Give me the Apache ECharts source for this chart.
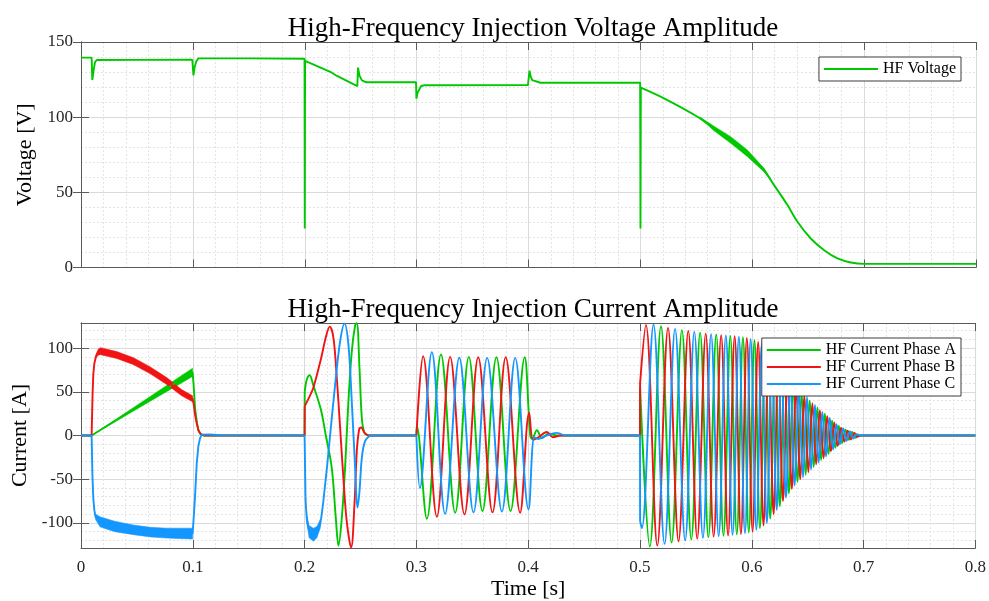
<!DOCTYPE html>
<html>
<head>
<meta charset="utf-8">
<script src="https://cdn.jsdelivr.net/npm/echarts@6/dist/echarts.min.js"></script>
<style>
  html, body { margin: 0; padding: 0; background: #ffffff; }
  #chart { width: 989px; height: 601px; }
</style>
</head>
<body>
<div id="chart"></div>
<script>
// ---------- tick labels ----------
const voltageTicks = [0, 50, 100, 150];
const currentTicks = [-100, -50, 0, 50, 100];

// ---------- HF voltage amplitude [t (s), V] ----------
// piecewise-constant part with the switching transients
const hfVoltage = [
  [0, 139.6], [0.0095, 139.6], [0.0101, 124.7], [0.0112, 131], [0.0125, 136.5], [0.014, 138.0], [0.05, 138.1], [0.0995, 138.2],
  [0.1005, 127.8], [0.1015, 133], [0.103, 137], [0.105, 139.1], [0.15, 139.1], [0.1998, 138.9],
  [0.2, 26], [0.2003, 137.4], [0.2228, 130.2], [0.2288, 127.4], [0.247, 120.7], [0.2476, 133], [0.249, 127.5], [0.2511, 124.5], [0.255, 123.2], [0.2995, 123.2],
  [0.2998, 112.3], [0.301, 116.5], [0.304, 120.7], [0.307, 121.2], [0.3995, 121.3],
  [0.4009, 131], [0.4018, 127.5], [0.4033, 124.7], [0.4107, 122.9], [0.4998, 123.0],
  [0.5001, 26], [0.5004, 119.6]
];
// run-up part (smooth decay to the floor)
const hfVoltageRamp = [
  [0.5004, 119.6], [0.5211, 112.5], [0.551, 100.3], [0.5658, 92.5], [0.5808, 84.8], [0.5957, 75.9],
  [0.6106, 64.8], [0.6195, 54.8], [0.6315, 41.5], [0.6404, 30.4], [0.6523, 19.3], [0.6643, 11.5], [0.6762, 6.0],
  [0.6881, 3.3], [0.7, 2.4], [0.75, 2.4], [0.8, 2.4]
];
// ripple envelope of the voltage during the speed ramp
const hfVoltageRippleUpper = [[0.553, 100.2], [0.5658, 94.0], [0.5808, 87.0], [0.5957, 78.1], [0.6106, 66.0], [0.6195, 54.8]];
const hfVoltageRippleLower = [[0.553, 99.6], [0.5658, 91.0], [0.5808, 82.6], [0.5957, 73.7], [0.6106, 63.6], [0.6195, 54.8]];

// ---------- HF current, phase A [t (s), A] ----------
const phaseA_step = [[0, 0], [0.0095, 0], [0.0998, 72.3], [0.1006, 60], [0.102, 32], [0.1035, 16], [0.105, 6], [0.107, 1.5], [0.11, 0], [0.2, 0], [0.2001, 50]];
const phaseA_burst1 = [[0.2001, 50], [0.202, 64], [0.2045, 69], [0.2079, 57], [0.2145, 30], [0.219, 0], [0.2243, -37], [0.2279, -94], [0.2303, -126],
  [0.2333, -94], [0.2362, -37], [0.2392, 39], [0.2422, 96], [0.2452, 126], [0.2467, 128.5], [0.2491, 77], [0.2512, 20], [0.2536, 3], [0.2571, 0]];
const phaseA_gap1 = [[0.2571, 0], [0.3, 0]];
const phaseA_burst2 = [[0.3, 0], [0.3004, 10], [0.3093, -95.2], [0.3220, 92.6], [0.3347, -88.3], [0.3469, 90], [0.3591, -86.4], [0.3716, 89.6],
  [0.3842, -86.4], [0.3969, 89.6], [0.4018, 0], [0.4035, -4], [0.4078, 6], [0.4125, -3], [0.418, 2], [0.425, 0]];
const phaseA_gap2 = [[0.425, 0], [0.5, 0], [0.5001, 55]];
const phaseA_burst3 = [[0.5001, 55], [0.5088, -127], [0.5188, 125], [0.5283, -122.5], [0.5375, 120.5], [0.5459, -119], [0.5538, 117.5], [0.5612, -116.3],
  [0.5682, 115.5], [0.5747, -114.7], [0.5808, 114], [0.5866, -113.2], [0.5921, 112.5], [0.5973, -111], [0.6024, 109], [0.6073, -106], [0.6120, 101],
  [0.6165, -95], [0.6209, 88], [0.6251, -81], [0.6293, 73], [0.6332, -66], [0.6371, 59], [0.6410, -53], [0.6446, 49], [0.6482, -45], [0.6518, 40],
  [0.6554, -36], [0.6587, 32], [0.6620, -28], [0.6653, 25], [0.6686, -21], [0.6718, 17], [0.6748, -14], [0.6778, 11], [0.6808, -8.5], [0.6838, 6.5],
  [0.6868, -5], [0.6898, 4], [0.6928, -2.5], [0.6955, 0]];
const phaseA_tail = [[0.6955, 0], [0.8, 0]];
const phaseA_rampUpper = [[0.0095, 0], [0.0998, 77]];
const phaseA_rampLower = [[0.0095, 0], [0.0998, 67.5]];

// ---------- HF current, phase B ----------
const phaseB_step = [[0, 0], [0.0095, 0], [0.0103, 45], [0.011, 70], [0.012, 83], [0.0135, 91], [0.0155, 95.5], [0.0175, 96.5], [0.032, 92], [0.047, 85],
  [0.062, 74.5], [0.077, 62], [0.09, 49], [0.0998, 42], [0.1008, 36], [0.102, 24], [0.1035, 14], [0.105, 6], [0.1068, 2], [0.11, 0], [0.2, 0], [0.2001, 33.6]];
const phaseB_burst1 = [[0.2001, 33.6], [0.2049, 46], [0.2079, 55], [0.2145, 87], [0.2195, 115], [0.2225, 124.5], [0.2258, 111.7], [0.2288, 66], [0.2318, 8.4],
  [0.2347, -48.7], [0.2377, -98.3], [0.2416, -128], [0.2446, -78.9], [0.2467, -17.9], [0.2488, 6.9], [0.2506, 9.2], [0.2536, 3], [0.257, 0]];
const phaseB_gap1 = [[0.257, 0], [0.3, 0]];
const phaseB_burst2 = [[0.3, 0], [0.3060, 90.7], [0.3183, -92.9], [0.3302, 90], [0.3430, -90.3], [0.3553, 89.6], [0.3681, -88], [0.3799, 89.6],
  [0.3928, -88.3], [0.4009, 26], [0.4045, -5], [0.409, -2], [0.4167, 4], [0.422, -2], [0.428, 0]];
const phaseB_gap2 = [[0.428, 0], [0.5, 0], [0.5001, 60]];
const phaseB_burst3 = [[0.5001, 60], [0.5053, 126.5], [0.5155, -126], [0.5251, 123], [0.5345, -121], [0.5432, 119.5], [0.5512, -118], [0.5588, 116.5],
  [0.5659, -115.7], [0.5726, 114.8], [0.5788, -114.2], [0.5847, 113.5], [0.5903, -112.7], [0.5956, 111.5], [0.6007, -110], [0.6057, 107], [0.6105, -103],
  [0.6150, 97], [0.6195, -90], [0.6237, 83], [0.6279, -75], [0.6319, 68], [0.6358, -61], [0.6397, 55], [0.6434, -50], [0.6470, 46], [0.6506, -42],
  [0.6542, 37], [0.6576, -33], [0.6609, 29], [0.6642, -26], [0.6675, 22], [0.6708, -18], [0.6738, 15], [0.6768, -12], [0.6798, 9], [0.6828, -7],
  [0.6858, 5.5], [0.6888, -4.5], [0.6918, 3], [0.6945, -1.5], [0.697, 0]];
const phaseB_tail = [[0.697, 0], [0.8, 0]];
const phaseB_bandUpper = [[0.0135, 93], [0.0155, 99], [0.0175, 100.5], [0.032, 96], [0.047, 89], [0.062, 78.5], [0.077, 66], [0.09, 52.5], [0.0998, 45.5]];
const phaseB_bandLower = [[0.0135, 89], [0.0155, 92], [0.0175, 92.5], [0.032, 88], [0.047, 81], [0.062, 70.5], [0.077, 58], [0.09, 45.5], [0.0998, 38.5]];

// ---------- HF current, phase C ----------
const phaseC_step = [[0, 0], [0.0095, 0], [0.0102, -45], [0.011, -72], [0.012, -86], [0.013, -93], [0.017, -98.6], [0.03, -104], [0.047, -108],
  [0.062, -110.5], [0.077, -111.7], [0.09, -112], [0.0998, -112], [0.1005, -100], [0.102, -70], [0.1035, -32], [0.105, -12], [0.1065, -3], [0.108, 1],
  [0.1095, 1.8], [0.115, 1.2], [0.125, 0.3], [0.2, 0], [0.2008, -70]];
const phaseC_burst1 = [[0.2008, -70], [0.2025, -100], [0.205, -111], [0.2079, -113], [0.211, -110], [0.2139, -102], [0.2184, -56], [0.2228, 0], [0.2273, 58],
  [0.2318, 108], [0.2357, 128], [0.2392, 104], [0.2422, 39], [0.2452, -37], [0.2473, -82.6], [0.2491, -64], [0.2512, -25.5], [0.2541, -6.4], [0.2586, 0]];
const phaseC_gap1 = [[0.2586, 0], [0.3, 0]];
const phaseC_burst2 = [[0.3, 0], [0.3031, -60], [0.3138, 95.2], [0.3257, -89.6], [0.3384, 89], [0.3511, -88], [0.3633, 88.8], [0.3765, -87],
  [0.3884, 88.8], [0.4003, -84.6], [0.4055, -2], [0.409, -4], [0.4145, -1], [0.4257, 3], [0.432, 0]];
const phaseC_gap2 = [[0.432, 0], [0.5, 0], [0.5001, -98]];
const phaseC_burst3 = [[0.5001, -98], [0.5017, -106], [0.5121, 127], [0.5220, -124], [0.5314, 122], [0.5404, -120], [0.5486, 118.5], [0.5563, -117],
  [0.5636, 116], [0.5704, -115.2], [0.5768, 114.5], [0.5828, -113.7], [0.5885, 113], [0.5939, -112], [0.5990, 110.5], [0.6041, -108], [0.6089, 105],
  [0.6135, -100], [0.6180, 92], [0.6223, -85], [0.6265, 78], [0.6306, -71], [0.6345, 64], [0.6384, -57], [0.6422, 52], [0.6458, -48], [0.6494, 44],
  [0.6530, -39], [0.6565, 35], [0.6598, -31], [0.6631, 27], [0.6664, -24], [0.6697, 20], [0.6728, -16], [0.6758, 13], [0.6788, -10], [0.6818, 8],
  [0.6848, -6], [0.6878, 4.5], [0.6908, -3.5], [0.6938, 1.5], [0.6965, 0]];
const phaseC_tail = [[0.6965, 0], [0.8, 0]];
const phaseC_bandUpper = [[0.013, -90], [0.017, -93], [0.03, -98], [0.047, -102.5], [0.062, -105], [0.077, -106], [0.09, -106], [0.0998, -106]];
const phaseC_bandLower = [[0.013, -96], [0.017, -104.5], [0.03, -110], [0.047, -113.5], [0.062, -116], [0.077, -117.4], [0.09, -118], [0.0998, -118.5]];
const phaseC_troughUpper = [[0.2015, -88], [0.204, -103], [0.2079, -106], [0.211, -104], [0.214, -96]];
const phaseC_troughLower = [[0.2015, -96], [0.204, -117], [0.2079, -121], [0.211, -117], [0.214, -106]];

// ---------- styling ----------
const FONT = '"Liberation Serif", "Times New Roman", serif';
const INK = '#262626';
const AXIS = '#5a5a5a';
const GRID = '#dadada';
const MINOR = '#e4e4e4';
const GREEN = '#00c800';
const RED = '#f01414';
const BLUE = '#1496ff';
const SMOOTH = 0.36;
const LW = 1.9;

const chart = echarts.init(document.getElementById('chart'), null, { renderer: 'canvas' });

function lineSeries(name, color, data, smooth, xi, yi) {
  return {
    type: 'line', name: name, data: data, xAxisIndex: xi, yAxisIndex: yi,
    symbol: 'none', smooth: smooth === true ? SMOOTH : (smooth || false), color: color,
    lineStyle: { color: color, width: LW }, itemStyle: { color: color },
    silent: true, animation: false, emphasis: { disabled: true }
  };
}

// filled envelope (fast ripple drawn as a band between two traces)
function bandSeries(upper, lower, color, xi, yi) {
  return {
    type: 'custom', coordinateSystem: 'cartesian2d', xAxisIndex: xi, yAxisIndex: yi,
    silent: true, animation: false, clip: true, data: [[upper[0][0], upper[0][1]]],
    renderItem: function (params, api) {
      const pts = upper.map(function (p) { return api.coord(p); })
        .concat(lower.slice().reverse().map(function (p) { return api.coord(p); }));
      return { type: 'polygon', shape: { points: pts }, style: { fill: color, stroke: color, lineWidth: 0.5 } };
    }
  };
}

const phases = [
  { name: 'HF Current Phase A', color: GREEN,
    bands: [[phaseA_rampUpper, phaseA_rampLower]],
    segments: [[phaseA_step, false], [phaseA_burst1, true], [phaseA_gap1, false], [phaseA_burst2, true], [phaseA_gap2, false], [phaseA_burst3, true], [phaseA_tail, false]] },
  { name: 'HF Current Phase B', color: RED,
    bands: [[phaseB_bandUpper, phaseB_bandLower]],
    segments: [[phaseB_step, false], [phaseB_burst1, true], [phaseB_gap1, false], [phaseB_burst2, true], [phaseB_gap2, false], [phaseB_burst3, true], [phaseB_tail, false]] },
  { name: 'HF Current Phase C', color: BLUE,
    bands: [[phaseC_bandUpper, phaseC_bandLower], [phaseC_troughUpper, phaseC_troughLower]],
    segments: [[phaseC_step, false], [phaseC_burst1, true], [phaseC_gap1, false], [phaseC_burst2, true], [phaseC_gap2, false], [phaseC_burst3, true], [phaseC_tail, false]] }
];

const series = [
  bandSeries(hfVoltageRippleUpper, hfVoltageRippleLower, GREEN, 0, 0),
  lineSeries('HF Voltage', GREEN, hfVoltage, false, 0, 0),
  lineSeries('HF Voltage', GREEN, hfVoltageRamp, 0.3, 0, 0)
];
phases.forEach(function (ph) {
  ph.bands.forEach(function (b) { series.push(bandSeries(b[0], b[1], ph.color, 2, 2)); });
  ph.segments.forEach(function (s) { series.push(lineSeries(ph.name, ph.color, s[0], s[1], 2, 2)); });
});

const labelStyle = { fontFamily: FONT, fontSize: 17, color: INK };
const nameStyle = { fontFamily: FONT, fontSize: 22, color: '#000' };

function xAxisMain(gi, showLabels) {
  return {
    gridIndex: gi, type: 'value', min: 0, max: 0.8, interval: 0.1,
    axisLine: { show: true, onZero: false, lineStyle: { color: AXIS, width: 1 } },
    axisTick: { show: true, inside: true, length: 8, lineStyle: { color: AXIS } },
    axisLabel: { show: showLabels, margin: 11, ...labelStyle },
    splitLine: { show: true, lineStyle: { color: GRID, width: 1 } },
    minorTick: { show: false, splitNumber: 5 },
    minorSplitLine: { show: true, lineStyle: { color: MINOR, width: 1, type: [2, 2] } },
    name: showLabels ? 'Time [s]' : '', nameLocation: 'middle', nameGap: 30, nameTextStyle: nameStyle
  };
}
function xAxisTop(gi) {
  return {
    gridIndex: gi, type: 'value', position: 'top', min: 0, max: 0.8, interval: 0.1,
    axisLine: { show: true, onZero: false, lineStyle: { color: AXIS, width: 1 } },
    axisTick: { show: true, inside: true, length: 8, lineStyle: { color: AXIS } },
    axisLabel: { show: false }, splitLine: { show: false }
  };
}

const option = {
  animation: false,
  backgroundColor: '#ffffff',
  title: [
    { text: 'High-Frequency Injection Voltage Amplitude', left: 528, top: 10, textAlign: 'center',
      textStyle: { fontFamily: FONT, fontSize: 27, fontWeight: 'normal', color: '#000' } },
    { text: 'High-Frequency Injection Current Amplitude', left: 528, top: 291, textAlign: 'center',
      textStyle: { fontFamily: FONT, fontSize: 27, fontWeight: 'normal', color: '#000' } }
  ],
  legend: [
    { data: ['HF Voltage'], orient: 'vertical', right: 28, top: 57, icon: 'rect', itemWidth: 54, itemHeight: 2, itemGap: 1,
      padding: [4, 5, 4, 5], borderColor: '#3c3c3c', borderWidth: 1, backgroundColor: '#ffffff', selectedMode: false,
      textStyle: { fontFamily: FONT, fontSize: 16, color: '#000', lineHeight: 16 } },
    { data: ['HF Current Phase A', 'HF Current Phase B', 'HF Current Phase C'], orient: 'vertical', right: 28, top: 338,
      icon: 'rect', itemWidth: 54, itemHeight: 2, itemGap: 1,
      padding: [4, 5, 4, 5], borderColor: '#3c3c3c', borderWidth: 1, backgroundColor: '#ffffff', selectedMode: false,
      textStyle: { fontFamily: FONT, fontSize: 16, color: '#000', lineHeight: 16 } }
  ],
  grid: [
    { left: 81, top: 42, width: 895, height: 225.5 },
    { left: 81, top: 323, width: 895, height: 225 }
  ],
  xAxis: [xAxisMain(0, false), xAxisTop(0), xAxisMain(1, true), xAxisTop(1)],
  yAxis: [
    { gridIndex: 0, type: 'value', min: 0, max: 150, interval: 50,
      axisLine: { show: true, lineStyle: { color: AXIS, width: 1 } },
      axisTick: { show: true, inside: true, length: 8, lineStyle: { color: AXIS } },
      axisLabel: { margin: 8, customValues: voltageTicks, ...labelStyle },
      splitLine: { show: true, lineStyle: { color: GRID, width: 1 } },
      minorTick: { show: false, splitNumber: 5 },
      minorSplitLine: { show: true, lineStyle: { color: MINOR, width: 1, type: [2, 2] } },
      name: 'Voltage [V]', nameLocation: 'middle', nameGap: 40, nameTextStyle: nameStyle },
    { gridIndex: 0, type: 'value', position: 'right', min: 0, max: 150, interval: 50,
      axisLine: { show: true, lineStyle: { color: AXIS, width: 1 } },
      axisTick: { show: true, inside: true, length: 8, lineStyle: { color: AXIS } },
      axisLabel: { show: false }, splitLine: { show: false } },
    { gridIndex: 1, type: 'value', min: -128.7, max: 128.7,
      axisLine: { show: true, lineStyle: { color: AXIS, width: 1 } },
      axisTick: { show: true, inside: true, length: 8, customValues: currentTicks, lineStyle: { color: AXIS } },
      axisLabel: { margin: 8, customValues: currentTicks, ...labelStyle },
      splitLine: { show: true, lineStyle: { color: GRID, width: 1 } },
      minorTick: { show: false, splitNumber: 5 },
      minorSplitLine: { show: true, lineStyle: { color: MINOR, width: 1, type: [2, 2] } },
      name: 'Current [A]', nameLocation: 'middle', nameGap: 44, nameTextStyle: nameStyle },
    { gridIndex: 1, type: 'value', position: 'right', min: -128.7, max: 128.7,
      axisLine: { show: true, lineStyle: { color: AXIS, width: 1 } },
      axisTick: { show: true, inside: true, length: 8, customValues: currentTicks, lineStyle: { color: AXIS } },
      axisLabel: { show: false }, splitLine: { show: false } }
  ],
  series: series
};

chart.setOption(option);
</script>
</body>
</html>
